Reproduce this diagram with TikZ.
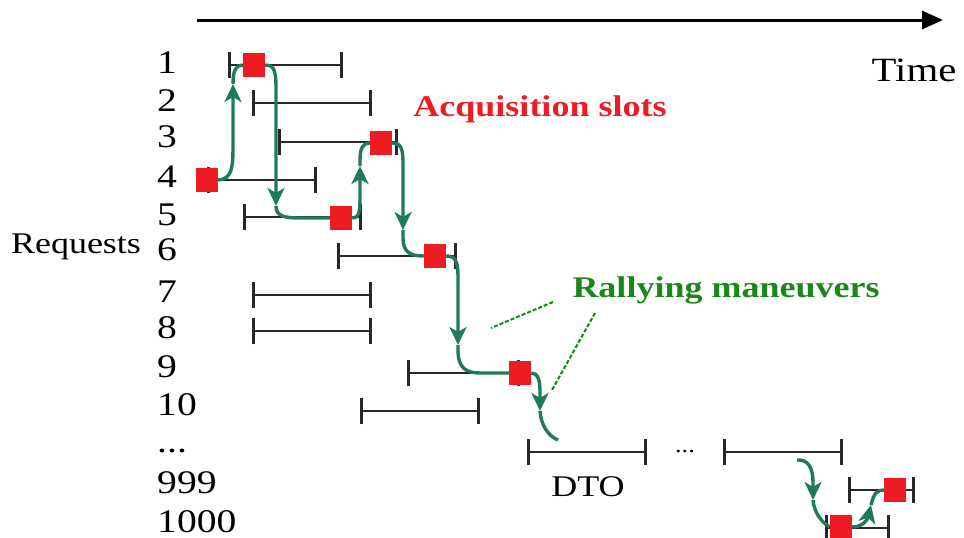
\documentclass[tikz,border=0pt]{standalone}
\usepackage{fontspec}
\setmainfont{Liberation Serif}[FakeStretch=1.2]
\usetikzlibrary{arrows.meta}

\definecolor{rojo}{RGB}{237,28,36}
\definecolor{verde}{RGB}{30,122,88}
\definecolor{verdetxt}{RGB}{25,135,25}
\definecolor{guiaverde}{RGB}{0,150,0}
\definecolor{gris}{RGB}{40,40,40}

\tikzset{
  ventana/.style={gris, line width=2.7pt, {Bar[width=26pt]}-{Bar[width=26pt]}},
  adq/.style={fill=rojo, minimum width=22pt, minimum height=24pt, inner sep=0pt},
  rally/.style={verde, line width=3.4pt},
  flecha/.style={rally, -{Stealth[length=18pt,width=17pt,inset=5pt]}},
  num/.style={anchor=west, inner sep=0pt, font=\fontsize{33}{36}\selectfont},
  guia/.style={guiaverde, line width=2pt, dash pattern=on 4pt off 2pt},
}

\begin{document}
\begin{tikzpicture}[x=1pt, y=-1pt]
    \useasboundingbox (0,0) rectangle (964,538);
    % Eje del tiempo
    \coordinate (t0) at (197,20);
    \coordinate (t1) at (943,20);
    \draw[line width=3pt, -{Triangle[length=21pt,width=18pt]}] (t0) -- (t1);
    \node[font=\fontsize{34}{38}\selectfont] (tiempo) at (914,70) {Time};
    % Peticiones
    \node[font=\fontsize{30}{34}\selectfont] (pet) at (76,247) {Requests};
    \node[num] (r1) at (157,63) {1};
    \node[num] (r2) at (157,101) {2};
    \node[num] (r3) at (157,137) {3};
    \node[num] (r4) at (157,177) {4};
    \node[num] (r5) at (157,215) {5};
    \node[num] (r6) at (157,250) {6};
    \node[num] (r7) at (157,292) {7};
    \node[num] (r8) at (157,328) {8};
    \node[num] (r9) at (157,367) {9};
    \node[num] (r10) at (157,405) {10};
    \node[num, anchor=base west] (rdots) at (157,452) {...};
    \node[num] (r999) at (157,483) {999};
    \node[num] (r1000) at (157,522) {1000};
    % Ventanas de visibilidad
    \draw[ventana] (228,65) -- (343,65);
    \draw[ventana] (252,103) -- (372,103);
    \draw[ventana] (278,142) -- (398,142);
    \draw[ventana] (207,180) -- (317,180);
    \draw[ventana] (243,217) -- (362,217);
    \draw[ventana] (337,256) -- (457,256);
    \draw[ventana] (252,295) -- (372,295);
    \draw[ventana] (252,331) -- (372,331);
    \draw[ventana] (407,373) -- (520,373);
    \draw[ventana] (360,411) -- (480,411);
    \draw[ventana] (527,452) -- (647,452);
    \draw[ventana] (723,452) -- (843,452);
    \draw[ventana] (848,490) -- (915,490);
    \draw[ventana] (825,528) -- (890,528);
    \node[font=\fontsize{30}{34}\selectfont] (dto) at (588,487) {DTO};
    \node[font=\fontsize{22}{24}\selectfont, anchor=base] (puntos) at (685,452) {...};
    % Ranuras de adquisicion
    \node[adq] (s1) at (254,65) {};
    \node[adq] (s3) at (381,143) {};
    \node[adq] (s4) at (207,180) {};
    \node[adq] (s5) at (341,218) {};
    \node[adq] (s6) at (435,256) {};
    \node[adq] (s9) at (520,373) {};
    \node[adq] (s999) at (895,490) {};
    \node[adq] (s1000) at (841,527) {};
    % Maniobras (cada una partida en la punta de flecha)
    \coordinate (m41) at (233,84);
    \coordinate (m15) at (276,206);
    \coordinate (m53) at (360,166);
    \coordinate (m36) at (403,230);
    \coordinate (m69) at (458,345);
    \coordinate (m9e) at (540,411);
    \coordinate (e9) at (558,440);
    \coordinate (b0) at (797,460);
    \coordinate (mb) at (813,500);
    \coordinate (m99) at (871,505);
    \draw[flecha] (s4.east) .. controls (232,179) and (233,168) .. (233,145) -- (m41);
    \draw[rally] (m41) .. controls (233,70) and (236,65) .. (s1.west);
    \draw[flecha] (s1.east) .. controls (275,65) and (276,72) .. (276,90) -- (m15);
    \draw[rally] (m15) .. controls (276,216) and (284,218) .. (300,218) -- (s5.west);
    \draw[flecha] (s5.east) .. controls (359,218) and (360,212) .. (360,198) -- (m53);
    \draw[rally] (m53) -- (360,160) .. controls (360,148) and (363,143) .. (s3.west);
    \draw[flecha] (s3.east) .. controls (402,143) and (403,150) .. (403,165) -- (m36);
    \draw[rally] (m36) -- (403,238) .. controls (403,252) and (410,256) .. (s6.west);
    \draw[flecha] (s6.east) .. controls (456,256) and (458,262) .. (458,278) -- (m69);
    \draw[rally] (m69) -- (458,350) .. controls (458,368) and (466,373) .. (480,373) -- (s9.west);
    \draw[flecha] (s9.east) .. controls (538,373) and (540,380) .. (540,392) -- (m9e);
    \draw[rally] (m9e) .. controls (541,425) and (548,436) .. (e9);
    \draw[flecha] (b0) .. controls (808,459) and (813,468) .. (813,482) -- (mb);
    \draw[rally] (mb) .. controls (814,512) and (821,522) .. (s1000.west);
    \draw[flecha] (s1000.east) .. controls (864,527) and (868,518) .. (m99);
    \draw[rally] (m99) .. controls (874,492) and (878,490) .. (s999.west);
    % Etiquetas
    \node[rojo, font=\bfseries\fontsize{30}{34}\selectfont] (slots) at (540,109) {Acquisition slots};
    \node[verdetxt, font=\bfseries\fontsize{30}{34}\selectfont] (maniobras) at (726,290) {Rallying maneuvers};
    \coordinate (d1) at (553,302);
    \coordinate (g1) at (491,328);
    \coordinate (d2) at (595,313);
    \coordinate (g2) at (552,390);
    \draw[guia] (d1) -- (g1);
    \draw[guia] (d2) -- (g2);
\end{tikzpicture}
\end{document}
